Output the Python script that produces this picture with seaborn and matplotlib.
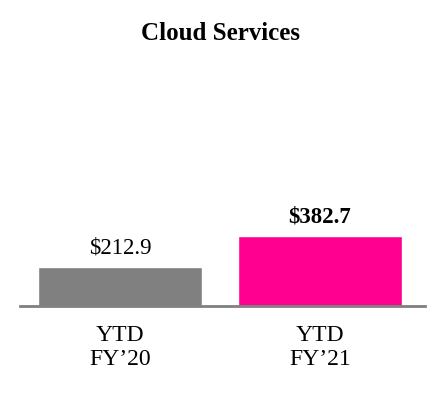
import matplotlib
matplotlib.use('Agg')
import matplotlib.pyplot as plt
import seaborn as sns
import pandas as pd

# データ
categories = ['YTD\nFY\u201920', 'YTD\nFY\u201921']
values = [212.9, 382.7]
value_labels = ['$212.9', '$382.7']
bar_colors = ['#808080', '#FF0090']

sns.set_style('white')
plt.rcParams['font.family'] = ['Liberation Serif', 'DejaVu Serif']
plt.rcParams['text.color'] = 'black'
plt.rcParams['xtick.color'] = 'black'

df = pd.DataFrame({'period': categories, 'revenue': values})

fig = plt.figure(figsize=(4.4, 4.0), dpi=100)
ax = fig.add_axes([0.0455, 0.235, 0.9205, 0.515])

sns.barplot(data=df, x='period', y='revenue', hue='period', palette=bar_colors,
            width=0.82, saturation=1, legend=False, ax=ax)

ax.set_xlim(-0.5, 1.525)
ax.set_ylim(0, 1120)

# 値ラベル
for i, (v, lab) in enumerate(zip(values, value_labels)):
    ax.text(i, v + 45, lab, ha='center', va='bottom', fontsize=16.5,
            fontweight='bold' if i == 1 else 'normal')

for s in ['top', 'right', 'left']:
    ax.spines[s].set_visible(False)
ax.spines['bottom'].set_color('#808080')
ax.spines['bottom'].set_linewidth(2)
ax.set_yticks([])
ax.set_xlabel('')
ax.set_ylabel('')
ax.tick_params(axis='x', length=0, pad=14, labelsize=17)
for t in ax.get_xticklabels():
    t.set_linespacing(1.15)

fig.text(0.5, 0.915, 'Cloud Services', ha='center', va='center',
         fontsize=18, fontweight='bold')

fig.savefig('out.png', dpi=100)
